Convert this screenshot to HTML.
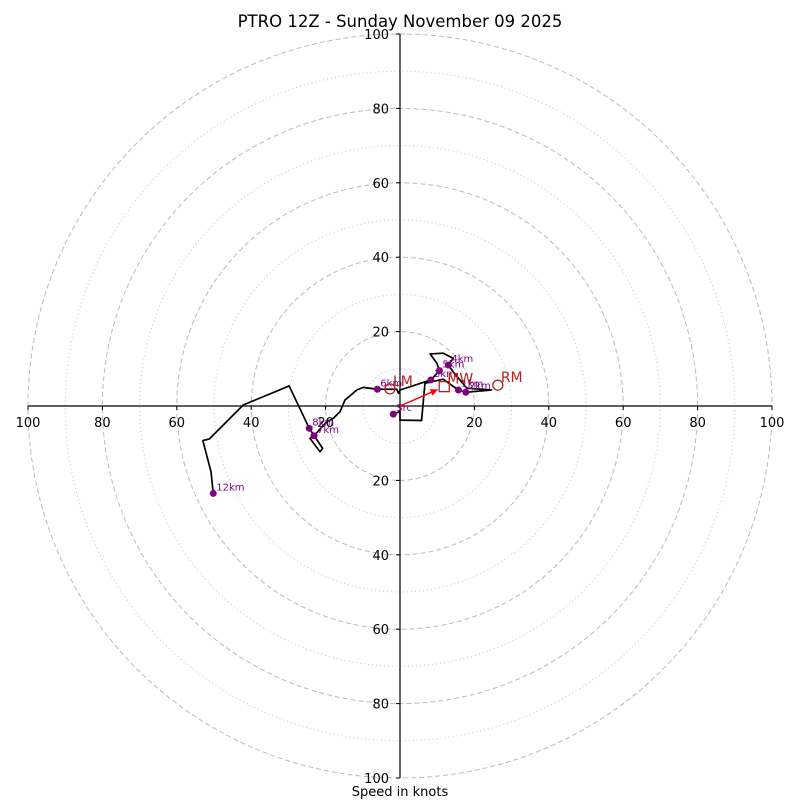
<!DOCTYPE html>
<html><head><meta charset="utf-8"><style>
html,body{margin:0;padding:0;background:#fff;}
svg{display:block;font-family:"DejaVu Sans","Liberation Sans",sans-serif;}
</style></head><body>
<svg id="chart" width="800" height="800" viewBox="0 0 800 800">
<rect width="800" height="800" fill="#fff"/>
<text x="400" y="27" text-anchor="middle" font-size="16.5" fill="#000">PTRO 12Z - Sunday November 09 2025</text>
<g id="rings"></g><g id="axes"></g><g id="profile"></g><g id="marks"></g>
<text x="400" y="796" text-anchor="middle" font-size="13" fill="#000">Speed in knots</text>
</svg>
<script>
const ringMajor = [20, 40, 60, 80, 100];
const ringMinor = [10, 30, 50, 70, 90];
const tickLabels = [100, 80, 60, 40, 20];
const profU = [-1.8,0,0,5.8,6.7,11.6,15.7,17.7,24.6,17.9,14.3,13.0,14.3,11.6,8.1,9.9,10.6,8.3,0,-0.4,-0.9,-6.1,-9.9,-11.6,-14.8,-16.1,-17.9,-19.7,-23.1,-24.2,-21.5,-20.8,-24.4,-29.8,-42.1,-51.3,-53.0,-50.8,-50.2];
const profV = [-2.2,-1.5,-3.8,-3.9,6.1,7.2,4.3,3.7,4.3,4.8,9.2,11.0,12.8,14.2,14.0,11.5,9.5,7.0,4.3,3.4,4.5,4.5,5.0,4.3,1.6,-1.5,-3.3,-4.2,-8.0,-8.7,-12.3,-11.4,-6.0,5.4,0.3,-8.9,-9.3,-17.7,-23.5];
const hLabels = ["Src","1km","2km","3km","4km","5km","6km","7km","8km","12km"];
const hU = [-1.8,15.7,17.7,8.3,13.0,10.6,-6.1,-23.1,-24.4,-50.2];
const hV = [-2.2,4.3,3.7,7.0,11.0,9.5,4.5,-8.0,-6.0,-23.5];
const motionNames = ["LM","RM","MW"];
const motionU = [-2.7,26.3,11.9];
const motionV = [4.6,5.6,5.2];

const CX=400, CY=406, S=3.72;
const px=u=>CX+u*S, py=v=>CY-v*S;
const NS="http://www.w3.org/2000/svg";
function mk(tag,attrs,parent){const e=document.createElementNS(NS,tag);for(const k in attrs)e.setAttribute(k,attrs[k]);parent.appendChild(e);return e;}
const rings=document.getElementById('rings'),axes=document.getElementById('axes'),prof=document.getElementById('profile'),marks=document.getElementById('marks');
ringMinor.forEach(r=>{const c=mk('circle',{cx:CX,cy:CY,r:r*S,fill:'none',stroke:'#c8c8c8','stroke-width':1,'stroke-dasharray':'1,3'},rings);

});
ringMajor.forEach(r=>{const c=mk('circle',{cx:CX,cy:CY,r:r*S,fill:'none',stroke:'#bbb','stroke-width':1,'stroke-dasharray':'5,3'},rings);

});
let l=mk('line',{x1:px(-100),y1:CY,x2:px(100),y2:CY,stroke:'#000','stroke-width':1.2},axes);


l=mk('line',{x1:CX,y1:py(100),x2:CX,y2:py(-100),stroke:'#000','stroke-width':1.2},axes);


tickLabels.forEach(t=>{[-1,1].forEach(s=>{
 mk('line',{x1:px(s*t),y1:CY,x2:px(s*t),y2:CY+4,stroke:'#000'},axes);
 const tx=mk('text',{x:px(s*t),y:CY+21,'text-anchor':'middle','font-size':13},axes);tx.textContent=t;
 
 
 mk('line',{x1:CX-4,y1:py(s*t),x2:CX,y2:py(s*t),stroke:'#000'},axes);
 const ty=mk('text',{x:CX-11,y:py(s*t)+5,'text-anchor':'end','font-size':13},axes);ty.textContent=t;
 
 
});});
const pts=profU.map((u,i)=>px(u)+','+py(profV[i])).join(' ');
const pl=mk('polyline',{points:pts,fill:'none',stroke:'#000','stroke-width':1.7,'stroke-linejoin':'round'},prof);


const ar=mk('line',{x1:CX,y1:CY,x2:px(motionU[2]*0.85),y2:py(motionV[2]*0.85),stroke:'#f00','stroke-width':1.5},marks);


const ah=mk('polygon',{points:'0,0 -7,-3.5 -7,3.5',fill:'#f00',transform:`translate(${px(motionU[2]*0.85)},${py(motionV[2]*0.85)}) rotate(${-Math.atan2(motionV[2],motionU[2])*180/Math.PI})`},marks);


hU.forEach((u,i)=>{
 const d=mk('circle',{cx:px(u),cy:py(hV[i]),r:3.5,fill:'#800080'},marks);
 
 
 const t=mk('text',{x:px(u)+3,y:py(hV[i])-3,'font-size':10,fill:'#800080'},marks);t.textContent=hLabels[i];
 
 
});
motionNames.forEach((n,i)=>{
 const x=px(motionU[i]),y=py(motionV[i]);
 let m;
 if(n==='MW') m=mk('rect',{x:x-5,y:y-5,width:10,height:10,fill:'none',stroke:'#b22222','stroke-width':1.3},marks);
 else m=mk('circle',{cx:x,cy:y,r:5,fill:'none',stroke:'#b22222','stroke-width':1.3},marks);
 
 
 const t=mk('text',{x:x+3,y:y-3,'font-size':14,fill:'#b22222'},marks);t.textContent=n;
 
 
});
</script>
</body></html>
